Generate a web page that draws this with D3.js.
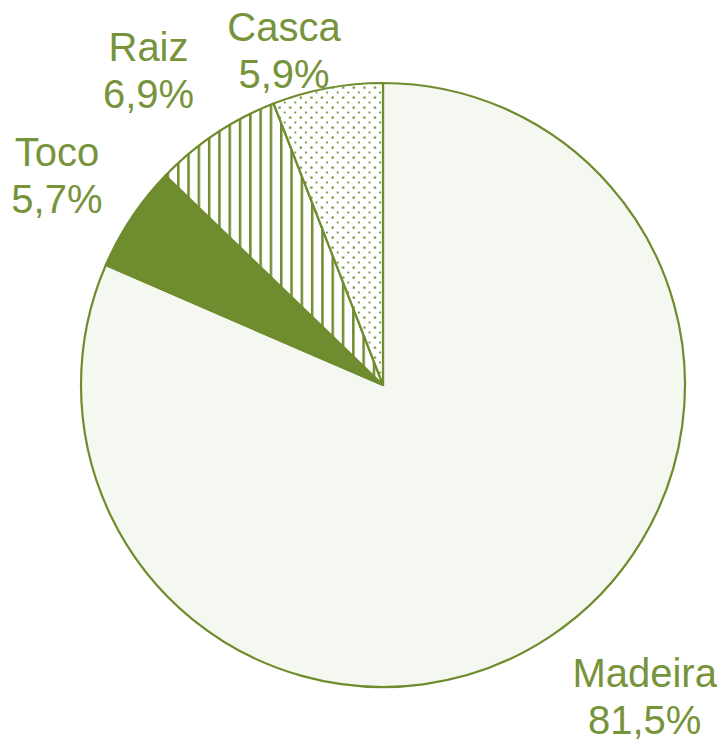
<!DOCTYPE html>
<html>
<head>
<meta charset="utf-8">
<script src="https://cdn.jsdelivr.net/npm/d3@7"></script>
<style>
  body { margin: 0; background: #fff; }
  text { font-family: "Liberation Sans", Arial, sans-serif; }
</style>
</head>
<body>
<svg id="chart"></svg>
<script>
// Data
const categories = ["Madeira", "Toco", "Raiz", "Casca"];
const values = [81.5, 5.7, 6.9, 5.9];
const valueLabels = ["81,5%", "5,7%", "6,9%", "5,9%"];

// Constants
const width = 725, height = 746;
const cx = 383, cy = 385, radius = 302;
const green = "#6f8c2e";
const textColor = "#77933c";

const svg = d3.select("#chart")
    .attr("width", width)
    .attr("height", height);

// Patterns for the hatched slices
const defs = svg.append("defs");

const stripes = defs.append("pattern")
    .attr("id", "stripes")
    .attr("patternUnits", "userSpaceOnUse")
    .attr("width", 10.3)
    .attr("height", 10);
stripes.append("rect").attr("width", 10.3).attr("height", 10).attr("fill", "#fff");
stripes.append("rect").attr("x", 0).attr("width", 2.5).attr("height", 10).attr("fill", green);

const dots = defs.append("pattern")
    .attr("id", "dots")
    .attr("patternUnits", "userSpaceOnUse")
    .attr("width", 10.6)
    .attr("height", 10);
dots.append("rect").attr("width", 10.6).attr("height", 10).attr("fill", "#fff");
dots.append("rect").attr("x", 1.5).attr("y", 1.5).attr("width", 2.2).attr("height", 2.2).attr("fill", green);
dots.append("rect").attr("x", 6.8).attr("y", 6.6).attr("width", 1.8).attr("height", 1.8).attr("fill", green);

const fills = d3.scaleOrdinal()
    .domain(categories)
    .range(["#f5f8f0", green, "url(#stripes)", "url(#dots)"]);

const pie = d3.pie().sort(null).value(d => d.value);
const arcs = pie(categories.map((c, i) => ({ name: c, value: values[i], label: valueLabels[i] })));

const arc = d3.arc().innerRadius(0).outerRadius(radius);
const labelArc = d3.arc().innerRadius(radius * 1.15).outerRadius(radius * 1.15);

const g = svg.append("g").attr("transform", `translate(${cx},${cy})`);

g.selectAll("path")
    .data(arcs)
    .join("path")
    .attr("d", arc)
    .attr("fill", d => fills(d.data.name))
    .attr("stroke", green)
    .attr("stroke-width", 2.2)
    .attr("stroke-linejoin", "round");

// Label nudges (like Excel's best-fit placement)
const nudges = { Madeira: [71, 22], Toco: [-37, -17], Raiz: [-42, -25], Casca: [-35, 7] };

const labels = g.selectAll("text.label")
    .data(arcs)
    .join("text")
    .attr("class", "label")
    .attr("text-anchor", "middle")
    .attr("font-size", 40)
    .attr("fill", textColor)
    .attr("transform", d => {
        const [x, y] = labelArc.centroid(d);
        const [nx, ny] = nudges[d.data.name];
        return `translate(${x + nx},${y + ny})`;
    });

labels.append("tspan").attr("x", 0).attr("dy", -10).text(d => d.data.name);
labels.append("tspan").attr("x", 0).attr("dy", 47).text(d => d.data.label);
</script>
</body>
</html>
